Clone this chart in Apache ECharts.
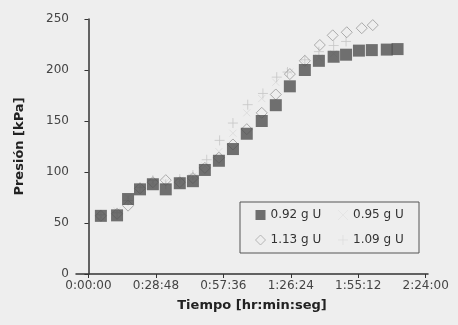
<!DOCTYPE html>
<html>
<head>
<meta charset="utf-8">
<script src="https://cdn.jsdelivr.net/npm/echarts@6/dist/echarts.min.js"></script>
<style>
html,body{margin:0;padding:0;background:#eeeeee;}
#c{width:458px;height:325px;}
</style>
</head>
<body>
<div id="c"></div>
<script>
// Time in minutes, pressure in kPa
const xTickValues = [0, 28.8, 57.6, 86.4, 115.2, 144];
const yTickValues = [0, 50, 100, 150, 200, 250];

const seriesNames = ['0.92 g U', '0.95 g U', '1.13 g U', '1.09 g U'];

const t092 = [5.3, 12.2, 16.9, 22, 27.5, 33, 39, 44.6, 49.7, 55.7, 61.7, 67.6, 74, 80, 86, 92.4, 98.4, 104.7, 110, 115.5, 121, 127.4, 132];
const p092 = [57, 57.5, 73.5, 83, 88, 83, 89, 91, 102, 111, 122.5, 137.5, 150, 165.5, 184, 200, 209, 213, 215, 219, 219.5, 220, 220.5];

const t095 = [5.3, 12.2, 16.9, 22, 27.5, 33, 39, 44.6, 49.7, 55.7, 61.7, 67.6, 74, 80, 86, 92.4, 98.4, 104.7];
const p095 = [56, 62, 75, 86, 90, 90, 92, 96, 106, 120, 138, 158, 172, 188, 198, 206, 212, 216];

const t113 = [5.3, 12.2, 16.9, 22, 27.5, 33, 39, 44.6, 49.7, 55.7, 61.7, 67.6, 74, 80, 86, 92.4, 98.8, 104.3, 110.3, 116.7, 121.4];
const p113 = [57, 59, 67, 84, 90, 92, 90, 94, 104, 114, 127, 142, 158, 176, 196, 209, 224.5, 234, 237, 241, 244];

const t109 = [5.3, 12.2, 16.9, 22, 27.5, 33, 39, 44.6, 50.5, 56, 61.7, 68, 74.5, 80.4, 85, 92.4, 98.4, 104.7, 110];
const p109 = [58, 60, 72, 85, 92, 88, 93, 97, 112, 131, 148, 166, 177, 193, 198, 210, 218, 224, 228];

function pairs(t, p){ return t.map((v,i)=>[v,p[i]]); }
function fmt(v){
  const s = Math.round(v*60);
  const h = Math.floor(s/3600), m = Math.floor((s%3600)/60), sec = s%60;
  return h + ':' + String(m).padStart(2,'0') + ':' + String(sec).padStart(2,'0');
}

const FONT = 'DejaVu Sans';
const plus = 'path://M5,0 L5,10 M0,5 L10,5';
const cross = 'path://M0,0 L10,10 M10,0 L0,10';

const chart = echarts.init(document.getElementById('c'), null, {renderer:'canvas'});
chart.setOption({
  backgroundColor: '#eeeeee',
  animation: false,
  grid: {left: 76, right: 30, top: 19, bottom: 51},
  legend: {
    left: 240, top: 202,
    width: 156,
    padding: [5, 8, 5, 15],
    borderColor: '#555', borderWidth: 1,
    backgroundColor: '#eeeeee',
    itemGap: 9, itemWidth: 10, itemHeight: 10,
    textStyle: {fontFamily: FONT, fontSize: 12, color: '#333', width: 58, lineHeight: 16},
    data: [
      {name: seriesNames[0], icon: 'rect', itemStyle: {color: '#4f4f4f'}},
      {name: seriesNames[1], icon: cross, itemStyle: {color: 'transparent', borderColor: '#e2e2e2', borderWidth: 1}},
      {name: seriesNames[2], icon: 'diamond', itemStyle: {color: 'transparent', borderColor: '#a8a8a8', borderWidth: 1}},
      {name: seriesNames[3], icon: plus, itemStyle: {color: 'transparent', borderColor: '#dddddd', borderWidth: 1}}
    ]
  },
  xAxis: {
    type: 'value', min: -5.33, max: 145,
    name: 'Tiempo [hr:min:seg]', nameLocation: 'middle', nameGap: 25,
    nameTextStyle: {fontFamily: FONT, fontSize: 13, fontWeight: 'bold', color: '#222'},
    axisLine: {show: true, onZero: false, lineStyle: {color: '#333', width: 1.5}},
    axisTick: {show: true, length: 4, customValues: xTickValues, lineStyle: {color: '#333'}},
    axisLabel: {customValues: xTickValues, formatter: fmt, fontFamily: FONT, fontSize: 12, color: '#444', margin: 6, showMinLabel: true, showMaxLabel: true},
    splitLine: {show: false}
  },
  yAxis: {
    type: 'value', min: 0, max: 250, interval: 50,
    name: 'Presión [kPa]', nameLocation: 'middle', nameGap: 50,
    nameTextStyle: {fontFamily: FONT, fontSize: 13, fontWeight: 'bold', color: '#222'},
    axisLine: {show: true, lineStyle: {color: '#333', width: 1.5}},
    axisTick: {show: true, length: 4, lineStyle: {color: '#333'}},
    axisLabel: {fontFamily: FONT, fontSize: 12, color: '#444', margin: 7},
    splitLine: {show: false}
  },
  series: [
    {name: seriesNames[1], type: 'scatter', data: pairs(t095, p095), symbol: cross, symbolSize: 7,
     itemStyle: {color: 'transparent', borderColor: '#dadada', borderWidth: 1}, z: 1},
    {name: seriesNames[3], type: 'scatter', data: pairs(t109, p109), symbol: plus, symbolSize: 10,
     itemStyle: {color: 'transparent', borderColor: '#c6c6c6', borderWidth: 1}, z: 2},
    {name: seriesNames[2], type: 'scatter', data: pairs(t113, p113), symbol: 'diamond', symbolSize: 11,
     itemStyle: {color: 'transparent', borderColor: '#9a9a9a', borderWidth: 1}, z: 3},
    {name: seriesNames[0], type: 'scatter', data: pairs(t092, p092), symbol: 'rect', symbolSize: 12,
     itemStyle: {color: '#4f4f4f'}, z: 4}
  ]
});
</script>
</body>
</html>
